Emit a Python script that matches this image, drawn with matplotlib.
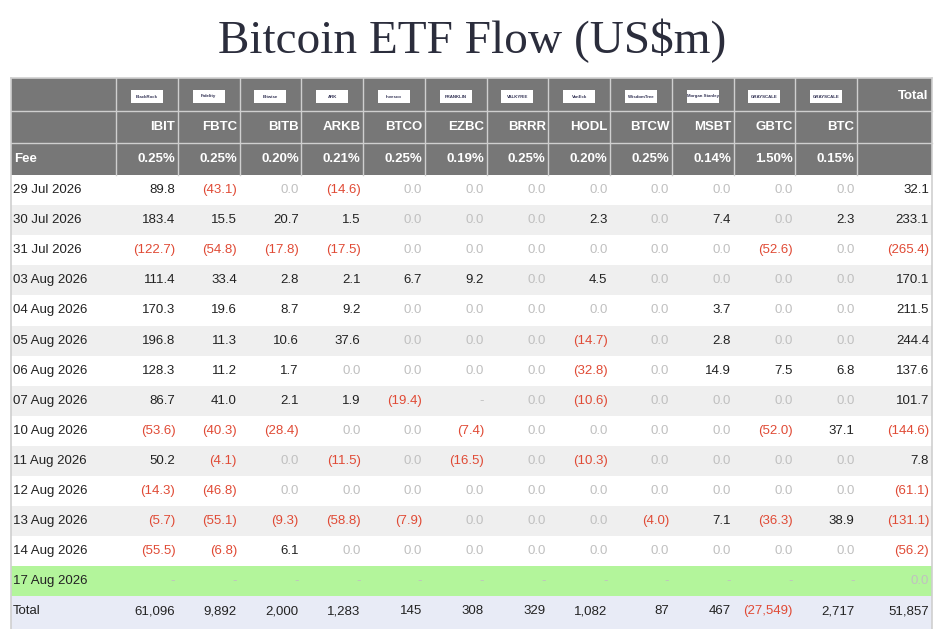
import matplotlib
matplotlib.use("Agg")
import matplotlib.pyplot as plt
from matplotlib.patches import Rectangle

# Données du tableau (US$m)
tickers = ['IBIT', 'FBTC', 'BITB', 'ARKB', 'BTCO', 'EZBC', 'BRRR', 'HODL',
           'BTCW', 'MSBT', 'GBTC', 'BTC']
issuers = ['BlackRock', 'Fidelity', 'Bitwise', 'ARK', 'Invesco', 'FRANKLIN',
           'VALKYRIE', 'VanEck', 'WisdomTree', 'Morgan Stanley', 'GRAYSCALE',
           'GRAYSCALE']
fees = ['0.25%', '0.25%', '0.20%', '0.21%', '0.25%', '0.19%', '0.25%',
        '0.20%', '0.25%', '0.14%', '1.50%', '0.15%']

dates = ['29 Jul 2026', '30 Jul 2026', '31 Jul 2026', '03 Aug 2026',
         '04 Aug 2026', '05 Aug 2026', '06 Aug 2026', '07 Aug 2026',
         '10 Aug 2026', '11 Aug 2026', '12 Aug 2026', '13 Aug 2026',
         '14 Aug 2026', '17 Aug 2026']

flows = [
    [89.8, -43.1, 0.0, -14.6, 0.0, 0.0, 0.0, 0.0, 0.0, 0.0, 0.0, 0.0],
    [183.4, 15.5, 20.7, 1.5, 0.0, 0.0, 0.0, 2.3, 0.0, 7.4, 0.0, 2.3],
    [-122.7, -54.8, -17.8, -17.5, 0.0, 0.0, 0.0, 0.0, 0.0, 0.0, -52.6, 0.0],
    [111.4, 33.4, 2.8, 2.1, 6.7, 9.2, 0.0, 4.5, 0.0, 0.0, 0.0, 0.0],
    [170.3, 19.6, 8.7, 9.2, 0.0, 0.0, 0.0, 0.0, 0.0, 3.7, 0.0, 0.0],
    [196.8, 11.3, 10.6, 37.6, 0.0, 0.0, 0.0, -14.7, 0.0, 2.8, 0.0, 0.0],
    [128.3, 11.2, 1.7, 0.0, 0.0, 0.0, 0.0, -32.8, 0.0, 14.9, 7.5, 6.8],
    [86.7, 41.0, 2.1, 1.9, -19.4, None, 0.0, -10.6, 0.0, 0.0, 0.0, 0.0],
    [-53.6, -40.3, -28.4, 0.0, 0.0, -7.4, 0.0, 0.0, 0.0, 0.0, -52.0, 37.1],
    [50.2, -4.1, 0.0, -11.5, 0.0, -16.5, 0.0, -10.3, 0.0, 0.0, 0.0, 0.0],
    [-14.3, -46.8, 0.0, 0.0, 0.0, 0.0, 0.0, 0.0, 0.0, 0.0, 0.0, 0.0],
    [-5.7, -55.1, -9.3, -58.8, -7.9, 0.0, 0.0, 0.0, -4.0, 7.1, -36.3, 38.9],
    [-55.5, -6.8, 6.1, 0.0, 0.0, 0.0, 0.0, 0.0, 0.0, 0.0, 0.0, 0.0],
    [None] * 12,
]
row_totals = [32.1, 233.1, -265.4, 170.1, 211.5, 244.4, 137.6, 101.7,
              -144.6, 7.8, -61.1, -131.1, -56.2, 0.0]
col_totals = [61096, 9892, 2000, 1283, 145, 308, 329, 1082, 87, 467,
              -27549, 2717]
grand_total = 51857

# Couleurs
HEAD = '#777777'
RED = '#e04a35'
ZERO = '#c0c0c0'
INK = '#222222'
GREEN = '#b3f59b'
TOTBG = '#e8ebf6'
LINE = '#cfcfcf'


def fmt(v, dec=1):
    if v is None:
        return '-', ZERO
    s = f"{abs(v):,.{dec}f}"
    if v < 0:
        return f"({s})", RED
    if v == 0:
        return s, ZERO
    return s, INK


W, H = 935, 629
fig = plt.figure(figsize=(W / 100, H / 100), dpi=100)
ax = fig.add_axes([0, 0, 1, 1])
ax.set_xlim(0, W)
ax.set_ylim(H, 0)
ax.axis('off')

font = 'Liberation Sans'
fs = 9.5
pad = 2.5

# Titre
ax.text(472, 41, 'Bitcoin ETF Flow (US$m)', ha='center', va='center',
        fontsize=34, family='Liberation Serif', color='#2b2d3c')

# Géométrie
x_left, x_first, x_tot, x_right = 11, 116, 857, 932
cw = (x_tot - x_first) / len(tickers)
col_x = [x_first + i * cw for i in range(len(tickers))]
head_y = [78, 111, 143, 175]
rh = 30.1

# En-tête gris
ax.add_patch(Rectangle((x_left, head_y[0]), x_right - x_left,
                       head_y[3] - head_y[0], fc=HEAD, ec='none'))
for y in head_y[1:3]:
    ax.plot([x_left, x_right], [y, y], color=LINE, lw=1)
for x in col_x + [x_tot]:
    ax.plot([x, x], [head_y[0], head_y[3]], color=LINE, lw=1)

for i, t in enumerate(tickers):
    cx = col_x[i] + cw / 2
    ax.add_patch(Rectangle((cx - 16, 90), 32, 13, fc='white', ec='none'))
    ax.text(cx, 96.5, issuers[i], ha='center', va='center', fontsize=3.2,
            color='#333355', family=font, fontweight='bold')
    ax.text(col_x[i] + cw - pad, 127, t, ha='right', va='center',
            fontsize=fs, color='white', fontweight='bold', family=font)
    ax.text(col_x[i] + cw - pad, 159, fees[i], ha='right', va='center',
            fontsize=fs, color='white', fontweight='bold', family=font)
ax.text(x_right - 4, 96, 'Total', ha='right', va='center', fontsize=fs,
        color='white', fontweight='bold', family=font)
ax.text(x_left + 3, 159, 'Fee', ha='left', va='center', fontsize=fs,
        color='white', fontweight='bold', family=font)

# Lignes de données
for r, d in enumerate(dates):
    y0 = head_y[3] + r * rh
    if d == '17 Aug 2026':
        bg = GREEN
    else:
        bg = '#efefef' if r % 2 == 1 else 'white'
    ax.add_patch(Rectangle((x_left, y0), x_right - x_left, rh, fc=bg,
                           ec='none'))
    yc = y0 + rh / 2
    ax.text(x_left + 2, yc, d, ha='left', va='center', fontsize=fs,
            color=INK, family=font)
    for i, v in enumerate(flows[r]):
        s, c = fmt(v)
        ax.text(col_x[i] + cw - pad, yc, s, ha='right', va='center',
                fontsize=fs, color=c, family=font)
    s, c = fmt(row_totals[r])
    ax.text(x_right - 3, yc, s, ha='right', va='center', fontsize=fs,
            color=c, family=font)

# Ligne Total
y0 = head_y[3] + len(dates) * rh
ax.add_patch(Rectangle((x_left, y0), x_right - x_left, H - y0, fc=TOTBG,
                       ec='none'))
yc = y0 + rh / 2
ax.text(x_left + 2, yc, 'Total', ha='left', va='center', fontsize=fs,
        color=INK, family=font)
for i, v in enumerate(col_totals):
    s, c = fmt(v, 0)
    ax.text(col_x[i] + cw - pad, yc, s, ha='right', va='center',
            fontsize=fs, color=c, family=font)
s, c = fmt(grand_total, 0)
ax.text(x_right - 3, yc, s, ha='right', va='center', fontsize=fs,
        color=c, family=font)

# Bordures extérieures
ax.plot([x_left, x_right], [head_y[0], head_y[0]], color=LINE, lw=1.2)
ax.plot([x_left, x_left], [head_y[0], H], color=LINE, lw=1.2)
ax.plot([x_right, x_right], [head_y[0], H], color=LINE, lw=1.2)

fig.savefig('out.png', dpi=100)
